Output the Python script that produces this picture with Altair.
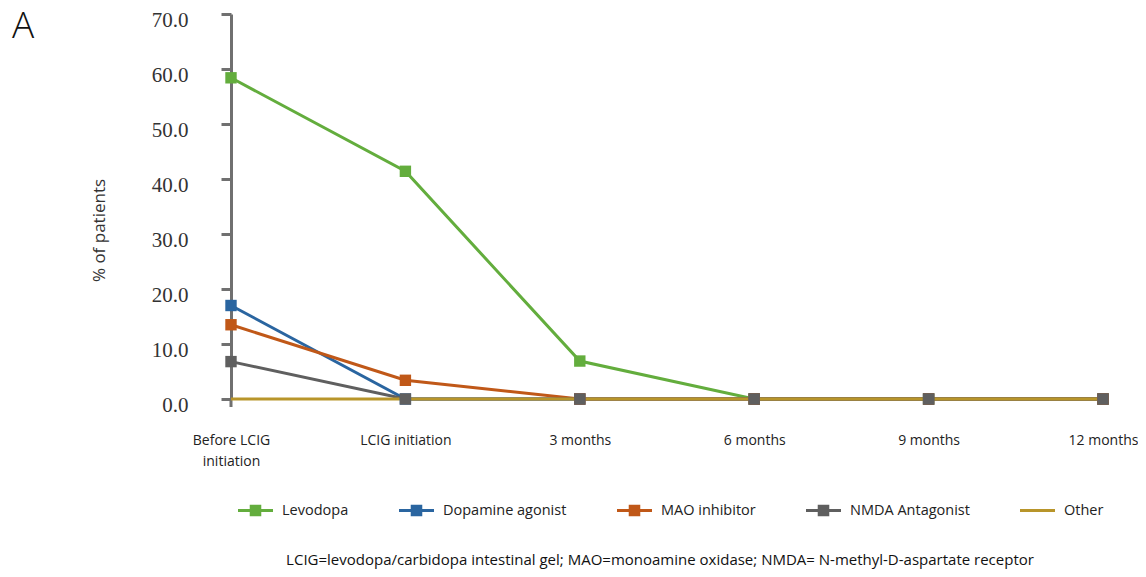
import altair as alt
import pandas as pd

categories = ["Before LCIG initiation", "LCIG initiation", "3 months", "6 months", "9 months", "12 months"]
series_names = ["Levodopa", "Dopamine agonist", "MAO inhibitor", "NMDA Antagonist", "Other"]
levodopa = [58.4, 41.4, 6.9, 0.0, 0.0, 0.0]
dopamine_agonist = [17.0, 0.0, 0.0, 0.0, 0.0, 0.0]
mao_inhibitor = [13.5, 3.4, 0.0, 0.0, 0.0, 0.0]
nmda_antagonist = [6.8, 0.0, 0.0, 0.0, 0.0, 0.0]
other = [0.0, 0.0, 0.0, 0.0, 0.0, 0.0]
colors = ["#63ad3d", "#2a65a0", "#c05818", "#5f5f5f", "#b8952a"]
y_ticks = [0, 10, 20, 30, 40, 50, 60, 70]
panel_label = "A"
caption = "LCIG=levodopa/carbidopa intestinal gel; MAO=monoamine oxidase; NMDA= N-methyl-D-aspartate receptor"

LINE_SQ = "M-1,-0.085H1V0.085H-1Z M-0.33,-0.33H0.33V0.33H-0.33Z"
LINE_ONLY = "M-1,-0.085H1V0.085H-1Z"
legend_shapes = [LINE_SQ, LINE_SQ, LINE_SQ, LINE_SQ, LINE_ONLY]

rows = []
for name, vals in zip(series_names, [levodopa, dopamine_agonist, mao_inhibitor, nmda_antagonist, other]):
    for i, (c, v) in enumerate(zip(categories, vals)):
        rows.append({"time": c, "value": v, "series": name, "order": i})
df = pd.DataFrame(rows)

FONT = "Open Sans"

color_scale = alt.Scale(domain=series_names, range=colors)

legend = alt.Legend(
    title=None,
    orient="none",
    direction="horizontal",
    legendX=7,
    legendY=479,
    padding=0,
    columnPadding=50,
    symbolSize=1225,
    symbolStrokeWidth=0,
    symbolOpacity=1,
    labelOffset=9,
    labelFont=FONT,
    labelFontSize=14.5,
    labelColor="#222222",
    labelLimit=300,
)

x = alt.X(
    "time:N",
    sort=categories,
    scale=alt.Scale(type="point", padding=0),
    axis=alt.Axis(
        title=None,
        domain=False,
        ticks=False,
        labelAngle=0,
        labelFont=FONT,
        labelFontSize=14,
        labelColor="#222222",
        labelPadding=34,
        labelLineHeight=21,
        labelBaseline="top",
        labelExpr="datum.value == 'Before LCIG initiation' ? ['Before LCIG', 'initiation'] : datum.value",
    ),
)

y = alt.Y(
    "value:Q",
    scale=alt.Scale(domain=[0, 70], nice=False, zero=True),
    axis=alt.Axis(
        title="% of patients",
        titleFont=FONT,
        titleFontSize=17,
        titleFontWeight="normal",
        titleColor="#333333",
        titleAngle=270,
        titleAlign="center",
        titleBaseline="middle",
        titleX=-132,
        titleY=216,
        values=y_ticks,
        format=".1f",
        labelFont="Liberation Serif",
        labelFontSize=21,
        labelFontWeight="normal",
        labelColor="#333333",
        labelPadding=33,
        labelOffset=6,
        grid=False,
        domainColor="#707070",
        domainWidth=3,
        tickColor="#707070",
        tickWidth=3,
        tickSize=10,
    ),
)

lines = alt.Chart(df).mark_line(strokeWidth=3).encode(
    x=x, y=y, color=alt.Color("series:N", scale=color_scale, legend=None), order="order:Q"
)

points = alt.Chart(df).transform_filter(
    alt.datum.series != "Other"
).mark_point(shape="square", size=130, filled=True, opacity=1).encode(
    x=x, y=y, color=alt.Color("series:N", scale=color_scale, legend=None)
)

legend_layer = alt.Chart(df).mark_point(filled=True, opacity=0, size=1).encode(
    x=x,
    y=y,
    color=alt.Color("series:N", scale=color_scale, legend=legend),
    shape=alt.Shape("series:N", scale=alt.Scale(domain=series_names, range=legend_shapes), legend=legend),
)

# short downward extension of the y-axis line below zero, as in the reference
axis_stub = alt.Chart(pd.DataFrame({"k": [0]})).mark_rule(color="#707070", strokeWidth=3).encode(
    x=alt.value(0), y=alt.value(385), y2=alt.value(393)
)

label_a = alt.Chart(pd.DataFrame({"t": [panel_label]})).mark_text(
    font=FONT, fontSize=37, fontWeight=300, align="left", baseline="top", color="#111111"
).encode(text="t:N", x=alt.value(-219), y=alt.value(-5))

cap = alt.Chart(pd.DataFrame({"t": [caption]})).mark_text(
    font=FONT, fontSize=15, align="center", baseline="alphabetic", color="#111111"
).encode(text="t:N", x=alt.value(429), y=alt.value(551))

chart = alt.layer(legend_layer, axis_stub, lines, points, label_a, cap).properties(
    width=872,
    height=385,
    autosize="none",
    background="white",
    padding={"left": 223, "top": 6, "right": 35, "bottom": 170},
).configure_view(stroke=None)

chart.save("out.html", embed_options={"renderer": "svg", "actions": False})
